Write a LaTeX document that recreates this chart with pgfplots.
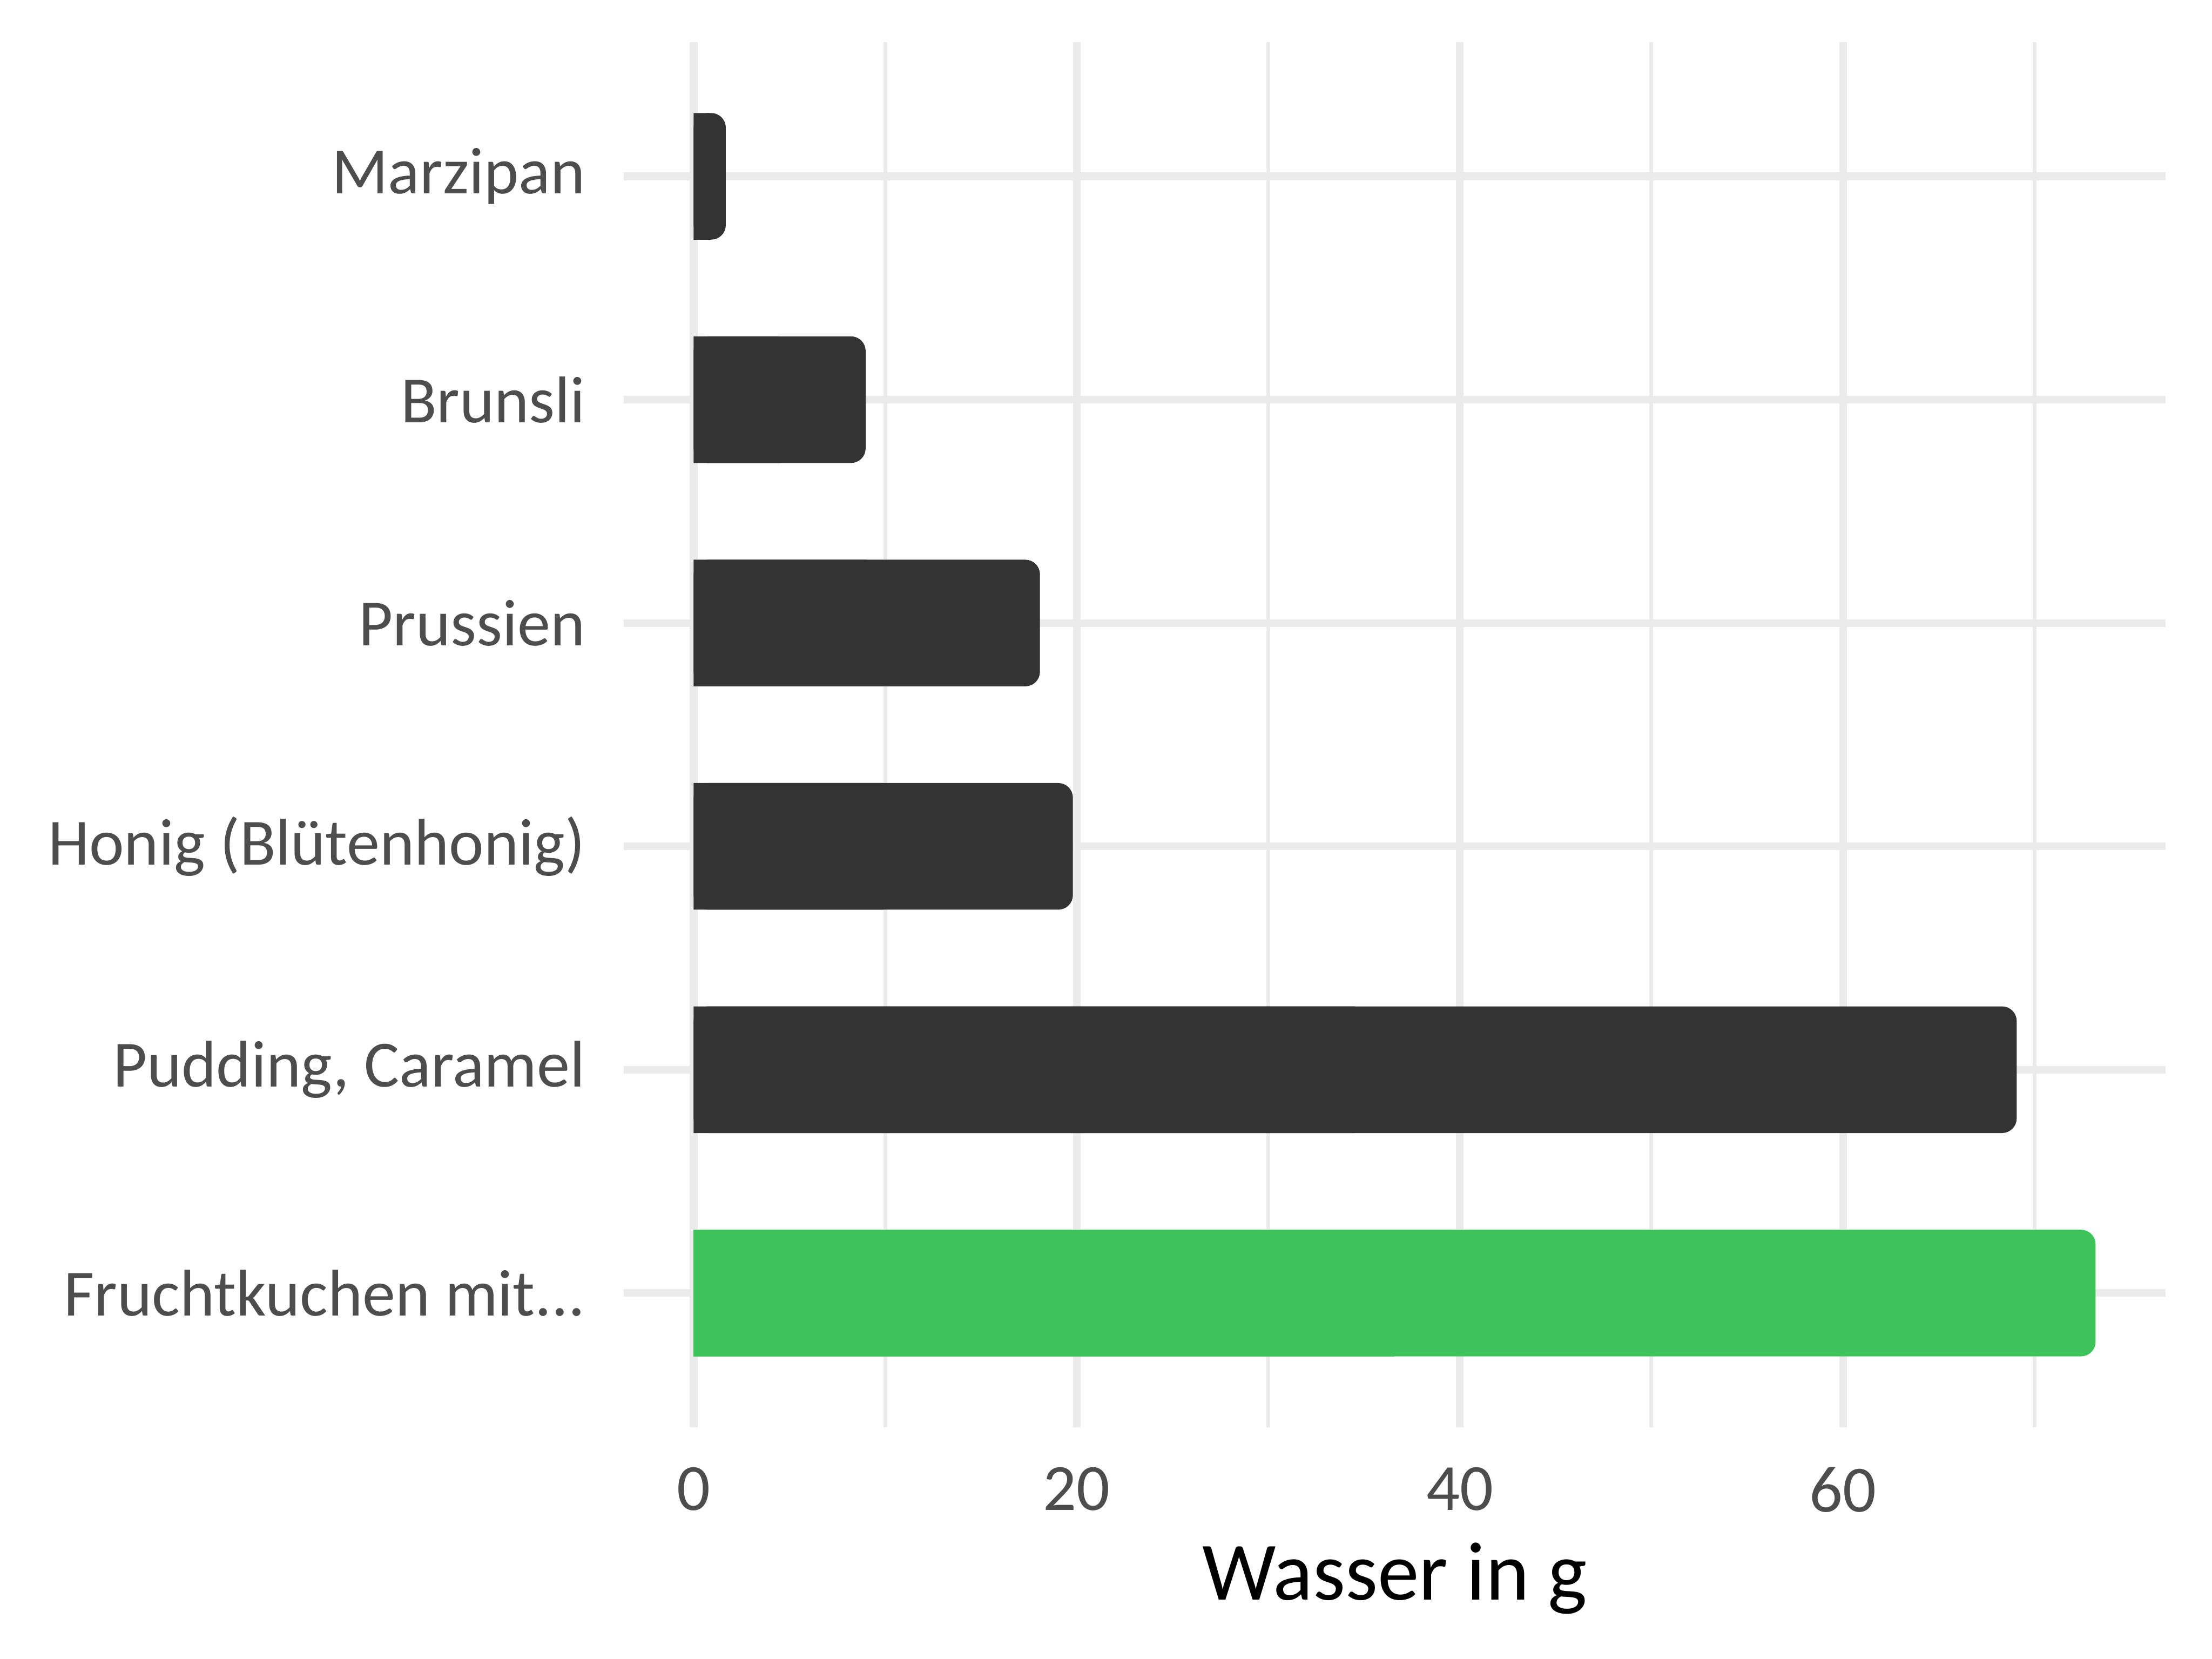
\documentclass[border=0pt]{standalone}
\usepackage{pgfplots}
\pgfplotsset{compat=1.18}
\usepackage{pgfplotstable}
\usepackage{fontspec}
\setmainfont{Carlito}

\definecolor{bardark}{HTML}{333333}
\definecolor{bargreen}{HTML}{3EC35A}
\definecolor{gridgray}{HTML}{EBEBEB}
\definecolor{ticktext}{HTML}{4D4D4D}

% Wasser in g, Marzipan oben (y=6)
\pgfplotstableread{
y w
6 1.68
5 8.98
4 18.08
3 19.80
2 69.07
}\darkbars
\pgfplotstableread{
y w
1 73.19
}\greenbars

\begin{document}
\begin{tikzpicture}
\useasboundingbox (-110.5pt,-41.1pt) rectangle (281.5pt,252.9pt);
\begin{axis}[
  scale only axis,
  width=273.3pt, height=245.4pt,
  xbar, bar width=0.567, bar shift=0pt,
  xmin=-3.66, xmax=76.85,
  ymin=0.4, ymax=6.6,
  axis line style={draw=none},
  xtick={0,20,40,60},
  minor xtick={10,30,50,70},
  ytick={1,2,3,4,5,6},
  yticklabels={{Fruchtkuchen mit{.}{.}{.}}, {Pudding, Caramel}, {Honig (Blütenhonig)}, Prussien, Brunsli, Marzipan},
  /pgf/number format/assume math mode=true,
  xmajorgrids, xminorgrids, ymajorgrids,
  major grid style={gridgray, line width=1.36pt},
  minor grid style={gridgray, line width=0.68pt},
  major tick length=0pt, minor tick length=0pt,
  tick style={draw=none},
  ticklabel style={font=\fontsize{11.7}{13}\selectfont, text=ticktext, inner sep=0pt},
  yticklabel style={xshift=-6.6pt},
  xticklabel style={yshift=-6.9pt},
  xlabel={Wasser in g},
  xlabel style={font=\fontsize{14.7}{17}\selectfont, inner sep=0pt,
    at={(axis description cs:0.5,0)}, anchor=north, yshift=-20.3pt},
]
\addplot[fill=bardark, draw=none, rounded corners=2.6pt] table[x=w, y=y] {\darkbars};
\addplot[fill=bardark, draw=none] table[x expr=\thisrow{w}/2, y=y] {\darkbars};
\addplot[fill=bargreen, draw=none, rounded corners=2.6pt] table[x=w, y=y] {\greenbars};
\addplot[fill=bargreen, draw=none] table[x expr=\thisrow{w}/2, y=y] {\greenbars};
\end{axis}
\end{tikzpicture}
\end{document}
